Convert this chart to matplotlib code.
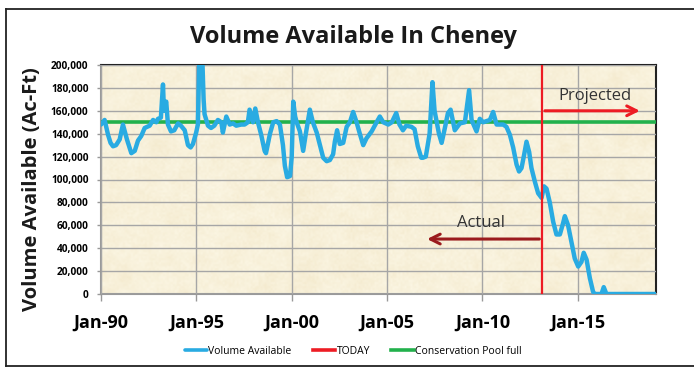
import numpy as np
import matplotlib
matplotlib.use("Agg")
import matplotlib.pyplot as plt
from matplotlib.lines import Line2D

plt.rcParams['font.family'] = ['Open Sans', 'DejaVu Sans']

# Reservoir volume (decimal year, thousand acre-feet)
years = [
    1990.00, 1990.10, 1990.19, 1990.37, 1990.50, 1990.63, 1990.79, 1990.98, 1991.15, 1991.36,
    1991.59, 1991.77, 1991.94, 1992.11, 1992.29, 1992.55, 1992.73, 1992.90, 1992.99, 1993.14,
    1993.25, 1993.30, 1993.34, 1993.42, 1993.51, 1993.67, 1993.84, 1994.04, 1994.19, 1994.39,
    1994.56, 1994.70, 1994.82, 1994.99, 1995.08, 1995.17, 1995.30, 1995.38, 1995.43, 1995.61,
    1995.77, 1995.94, 1996.13, 1996.31, 1996.39, 1996.57, 1996.75, 1996.92, 1997.09, 1997.35,
    1997.53, 1997.70, 1997.79, 1997.97, 1998.09, 1998.23, 1998.40, 1998.58, 1998.65, 1998.86,
    1999.03, 1999.21, 1999.38, 1999.54, 1999.64, 1999.76, 1999.91, 2000.00, 2000.08, 2000.18,
    2000.26, 2000.43, 2000.60, 2000.74, 2000.95, 2001.11, 2001.31, 2001.48, 2001.65, 2001.83,
    2002.00, 2002.17, 2002.26, 2002.38, 2002.52, 2002.70, 2002.88, 2003.05, 2003.22, 2003.40,
    2003.57, 2003.75, 2003.92, 2004.19, 2004.45, 2004.62, 2004.80, 2005.06, 2005.25, 2005.48,
    2005.65, 2005.83, 2006.00, 2006.28, 2006.44, 2006.61, 2006.79, 2006.88, 2007.03, 2007.23,
    2007.38, 2007.49, 2007.63, 2007.72, 2007.86, 2008.03, 2008.19, 2008.33, 2008.55, 2008.82,
    2009.08, 2009.30, 2009.43, 2009.69, 2009.86, 2010.04, 2010.21, 2010.39, 2010.56, 2010.74,
    2010.91, 2011.09, 2011.26, 2011.44, 2011.61, 2011.79, 2011.92, 2012.05, 2012.19, 2012.31,
    2012.45, 2012.57, 2012.75, 2012.92, 2013.10, 2013.23, 2013.36, 2013.53, 2013.71, 2013.88,
    2014.06, 2014.23, 2014.32, 2014.49, 2014.67, 2014.84, 2015.02, 2015.19, 2015.31, 2015.46,
    2015.63, 2015.80, 2015.89, 2016.24, 2016.36, 2016.50, 2019.10,
]
volume_k = [
    148, 150, 152, 139, 132, 129, 130, 135, 148, 135,
    123, 125, 134, 138, 145, 147, 152, 150, 153, 154,
    183, 160, 165, 168, 148, 142, 143, 149, 147, 143,
    130, 128, 131, 141, 148, 215, 212, 170, 157, 147,
    145, 147, 152, 150, 141, 155, 148, 149, 147, 148,
    148, 150, 161, 150, 162, 150, 139, 125, 123, 140,
    150, 151, 148, 130, 112, 102, 103, 120, 168, 155,
    150, 142, 125, 140, 161, 150, 141, 130, 119, 116,
    117, 122, 133, 143, 131, 132, 146, 150, 159, 150,
    140, 130, 136, 142, 150, 155, 150, 148, 150, 158,
    148, 143, 147, 146, 144, 129, 119, 119, 120, 140,
    185, 160, 148, 140, 132, 145, 158, 161, 143, 149,
    150, 178, 152, 142, 153, 150, 151, 152, 159, 148,
    148, 148, 146, 139, 128, 113, 107, 110, 122, 133,
    124, 110, 98, 88, 84, 94, 92, 80, 63, 52,
    52, 62, 68, 60, 45, 31, 24, 28, 36, 30,
    14, 2, 0, 0, 6, 0, 0,
]
volume = [v * 1000 for v in volume_k]

today = 2013.13
pool_full = 150000

tick_years = [1990, 1995, 2000, 2005, 2010, 2015]
tick_labels = ['Jan-90', 'Jan-95', 'Jan-00', 'Jan-05', 'Jan-10', 'Jan-15']
y_ticks = list(range(0, 200001, 20000))

W, H = 694, 368
fig = plt.figure(figsize=(W / 100, H / 100), dpi=100)
fig.patch.set_facecolor('white')

# outer chart frame
fig.add_artist(Line2D([6 / W, 6 / W], [1 - 9 / H, 1 - 366 / H], color='#222222', lw=1.3))
fig.add_artist(Line2D([6 / W, 1.0], [1 - 9 / H, 1 - 9 / H], color='#222222', lw=1.3))
fig.add_artist(Line2D([6 / W, 1.0], [1 - 366 / H, 1 - 366 / H], color='#222222', lw=1.3))

ax = fig.add_axes([101 / W, 1 - 294 / H, (656 - 101) / W, (294 - 65) / H])
x0, x1 = 1990, 2019.1
ax.set_xlim(x0, x1)
ax.set_ylim(0, 200000)

# parchment fill: soft mottle plus a faint grain
rng = np.random.default_rng(7)
base = np.array([252, 247, 229]) / 255
dark = np.array([243, 232, 202]) / 255
mottle = rng.normal(0, 1, (30, 70))
w = np.clip((mottle + 1.0) / 3.2, 0, 1)[..., None]
ax.imshow(base * (1 - w) + dark * w, extent=[x0, x1, 0, 200000], aspect='auto',
          interpolation='bicubic', zorder=0)
grain = rng.normal(0, 1, (115, 278))
g = np.clip((grain + 1.5) / 3.0, 0, 1)[..., None]
grain_rgba = np.concatenate([base * (1 - g) + dark * g, np.full(g.shape, 0.35)], axis=-1)
ax.imshow(grain_rgba, extent=[x0, x1, 0, 200000], aspect='auto',
          interpolation='bilinear', zorder=0.5)

ax.set_yticks(y_ticks)
ax.set_yticklabels([f'{v:,}' for v in y_ticks], fontsize=7.3, fontweight='bold')
ax.set_xticks(tick_years)
ax.set_xticklabels(tick_labels, fontsize=13, fontweight='bold')
ax.tick_params(axis='x', length=5, width=1, color='#999999', pad=9)
ax.tick_params(axis='y', length=3, width=1, color='#999999', pad=6)
ax.grid(True, color='#a6a6a6', lw=1, zorder=1)
ax.set_axisbelow(False)

for s in ('left', 'bottom'):
    ax.spines[s].set_color('#9a9a9a')
    ax.spines[s].set_linewidth(1.5)
for s in ('top', 'right'):
    ax.spines[s].set_color('#222222')
    ax.spines[s].set_linewidth(1.5)

ax.plot(years, volume, color='#29abe2', lw=3.2, solid_joinstyle='round',
        solid_capstyle='round', zorder=4, label='Volume Available')
ax.axvline(today, color='#ed1c24', lw=1.6, zorder=5, label='TODAY')
ax.axhline(pool_full, color='#22b14c', lw=2.6, zorder=3, label='Conservation Pool full')

# projected / actual arrows
ax.annotate('', xy=(2018.4, 160000), xytext=(today, 160000),
            arrowprops=dict(arrowstyle='->,head_length=0.7,head_width=0.35',
                            color='#ed1c24', lw=2.2), zorder=6)
ax.text(2015.9, 172500, 'Projected', fontsize=12, color='#333333', ha='center', va='center', zorder=6)
ax.annotate('', xy=(2006.95, 48000), xytext=(today, 48000),
            arrowprops=dict(arrowstyle='->,head_length=0.7,head_width=0.35',
                            color='#9b1b1e', lw=2.2), zorder=6)
ax.text(2009.95, 62000, 'Actual', fontsize=12, color='#333333', ha='center', va='center', zorder=6)

fig.text(353 / W, 1 - 37 / H, 'Volume Available In Cheney', fontsize=17, fontweight='bold',
         ha='center', va='center', color='#1a1a1a')
fig.text(32 / W, 1 - 189 / H, 'Volume Available (Ac-Ft)', fontsize=14.5, fontweight='bold',
         rotation=90, ha='center', va='center', color='#1a1a1a')

leg = fig.legend(loc='center', bbox_to_anchor=(353 / W, 1 - 351 / H), ncol=3, frameon=False,
                 fontsize=7.5, handlelength=2.2, handletextpad=0.1, columnspacing=2.0)
for h in leg.legend_handles:
    h.set_linewidth(2.6)

fig.savefig('out.png', dpi=100)
